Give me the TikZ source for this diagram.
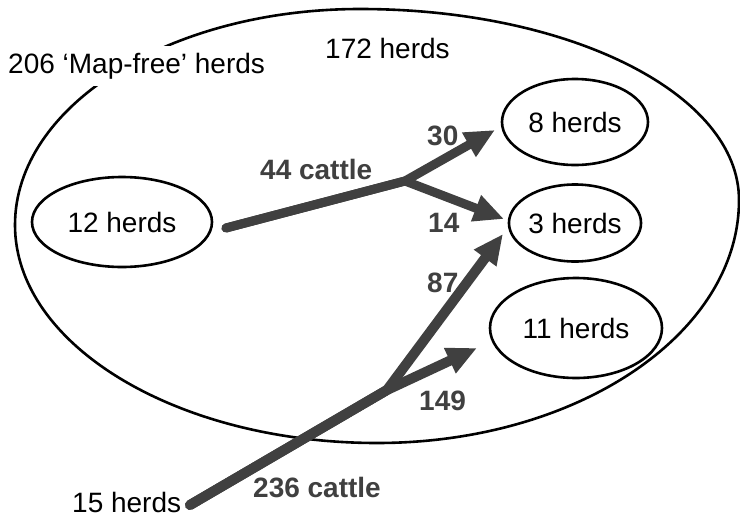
\documentclass[tikz,border=0pt]{standalone}
\usepackage{fontspec}
\setmainfont{Liberation Sans}
\usetikzlibrary{shapes.geometric,arrows.meta}
\definecolor{flow}{HTML}{404040}
\begin{document}
\begin{tikzpicture}[x=1pt,y=-1pt,
  herd/.style={draw, ellipse, line width=2.6pt, inner sep=0pt, font=\fontsize{28}{30}\selectfont},
  lbl/.style={inner sep=0pt, anchor=base west, font=\fontsize{28}{30}\selectfont},
  flowlbl/.style={inner sep=0pt, anchor=base west, text=flow, font=\fontsize{28}{30}\selectfont\bfseries},
  flowline/.style={draw=flow, line width=9pt, line join=miter, line cap=round, -{Triangle[length=30pt,width=26pt]}},
]
\useasboundingbox (0,0) rectangle (740,517);
\fill[white] (0,0) rectangle (740,517);
% outer (map-free) boundary
\draw[line width=2.6pt] (15,225)
  .. controls (15,106) and (169,9) .. (360,9)
  .. controls (570,9) and (739,94) .. (739,200)
  .. controls (739,334) and (577,443) .. (377,443)
  .. controls (177,443) and (15,345) .. (15,225) -- cycle;
\node[lbl, fill=white, inner xsep=3pt, inner ysep=7pt] (mapfree) at (5,73) {206 ‘Map-free’ herds};
\node[lbl] (free172) at (325,58) {172 herds};
% herd ellipses
\node[herd, minimum width=180pt, minimum height=90pt] (n12) at (122,222) {12 herds};
\node[herd, minimum width=146pt, minimum height=86pt] (n8) at (575,122) {8 herds};
\node[herd, minimum width=130pt, minimum height=77pt] (n3) at (575,223) {3 herds};
\node[herd, minimum width=172pt, minimum height=100pt] (n11) at (576,328) {11 herds};
\node[lbl] (n15) at (72,512) {15 herds};
% flow coordinates
\coordinate (s1) at (226,228);
\coordinate (b1) at (405,181);
\coordinate (t30) at (495,130);
\coordinate (t14) at (504,219);
\coordinate (s2) at (190,505);
\coordinate (b2) at (387,390);
\coordinate (t87) at (503,234);
\coordinate (t149) at (477,348);
\draw[flowline] (s1) -- (b1) -- (t30);
\draw[flowline] (s1) -- (b1) -- (t14);
\draw[flowline, line width=10pt] (s2) -- (b2) -- (t87);
\draw[flowline, line width=10pt] (s2) -- (b2) -- (t149);
% flow labels
\node[flowlbl] (l44) at (260,179) {44 cattle};
\node[flowlbl] (l30) at (427,145) {30};
\node[flowlbl] (l14) at (428,232) {14};
\node[flowlbl] (l87) at (427,292) {87};
\node[flowlbl] (l149) at (419,410) {149};
\node[flowlbl] (l236) at (253,497) {236 cattle};
\end{tikzpicture}
\end{document}
